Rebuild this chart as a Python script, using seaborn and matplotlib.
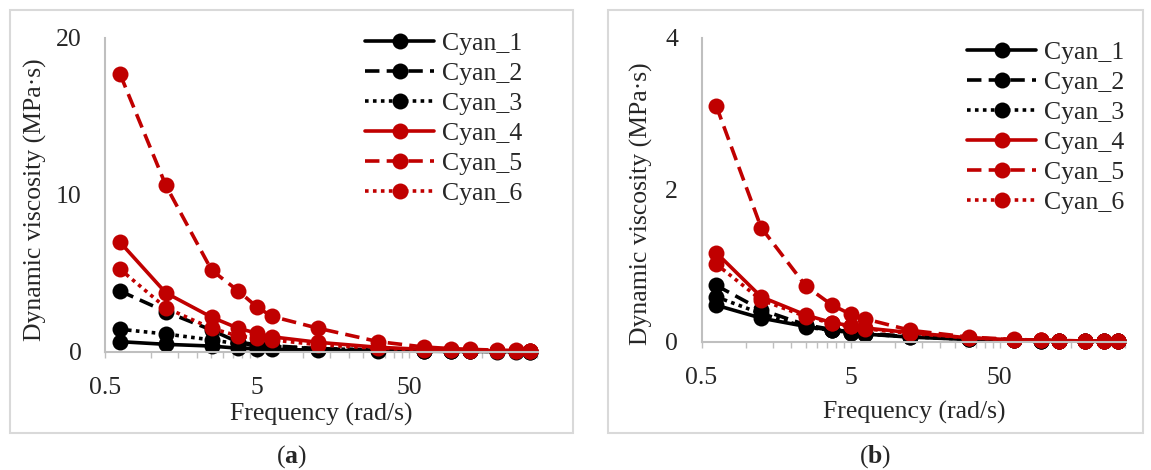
import numpy as np
import pandas as pd
import matplotlib
matplotlib.use("Agg")
import matplotlib.pyplot as plt
from matplotlib.patches import Rectangle
from matplotlib.ticker import FixedLocator, NullFormatter
import seaborn as sns

# Angular frequency sweep (rad/s)
frequency = [0.628, 1.257, 2.513, 3.770, 5.027, 6.283, 12.57, 31.42,
             62.83, 94.25, 125.7, 188.5, 251.3, 314.2]

samples = ["Cyan_1", "Cyan_2", "Cyan_3", "Cyan_4", "Cyan_5", "Cyan_6"]

# Panel (a): dynamic viscosity (MPa·s)
visc_a_1 = [0.64, 0.47, 0.36, 0.22, 0.18, 0.15, 0.10, 0.05, 0.03, 0.02, 0.02, 0.01, 0.01, 0.01]
visc_a_2 = [3.87, 2.55, 1.38, 0.60, 0.45, 0.38, 0.20, 0.10, 0.07, 0.05, 0.04, 0.03, 0.02, 0.02]
visc_a_3 = [1.43, 1.13, 0.75, 0.50, 0.40, 0.33, 0.20, 0.10, 0.06, 0.04, 0.03, 0.02, 0.02, 0.01]
visc_a_4 = [6.98, 3.75, 2.20, 1.49, 1.17, 0.95, 0.60, 0.28, 0.15, 0.10, 0.08, 0.05, 0.04, 0.03]
visc_a_5 = [17.70, 10.60, 5.20, 3.87, 2.83, 2.25, 1.50, 0.64, 0.30, 0.20, 0.15, 0.10, 0.08, 0.06]
visc_a_6 = [5.26, 2.80, 1.49, 1.00, 0.85, 0.75, 0.45, 0.22, 0.12, 0.08, 0.06, 0.04, 0.03, 0.03]

# Panel (b): dynamic viscosity (MPa·s)
visc_b_1 = [0.48, 0.31, 0.20, 0.15, 0.12, 0.10, 0.060, 0.030, 0.017, 0.012, 0.010, 0.007, 0.005, 0.004]
visc_b_2 = [0.74, 0.42, 0.22, 0.16, 0.13, 0.11, 0.070, 0.035, 0.020, 0.015, 0.012, 0.008, 0.006, 0.005]
visc_b_3 = [0.59, 0.37, 0.19, 0.15, 0.12, 0.10, 0.065, 0.030, 0.018, 0.013, 0.010, 0.007, 0.006, 0.005]
visc_b_4 = [1.17, 0.59, 0.35, 0.25, 0.21, 0.18, 0.120, 0.050, 0.025, 0.020, 0.015, 0.010, 0.008, 0.006]
visc_b_5 = [3.10, 1.50, 0.73, 0.48, 0.36, 0.30, 0.150, 0.060, 0.030, 0.020, 0.015, 0.010, 0.010, 0.008]
visc_b_6 = [1.02, 0.55, 0.33, 0.24, 0.20, 0.17, 0.110, 0.050, 0.025, 0.018, 0.013, 0.010, 0.008, 0.006]

x_ticks = [0.5, 5, 50]
x_tick_labels = ["0.5", "5", "50"]
y_ticks_a = [0, 10, 20]
y_ticks_b = [0, 2, 4]

sns.set_style("white")
plt.rcParams["font.family"] = ["Liberation Serif", "DejaVu Serif"]
plt.rcParams["mathtext.fontset"] = "custom"
plt.rcParams["mathtext.rm"] = "Liberation Serif"
plt.rcParams["mathtext.bf"] = "Liberation Serif:bold"

RED = "#C00000"
BLACK = "#000000"
GREY = "#BFBFBF"
FS = 18.5

colors = [BLACK, BLACK, BLACK, RED, RED, RED]
styles = ["-", (0, (4, 2)), (0, (1, 1.2)), "-", (0, (4, 2)), (0, (1, 1.2))]

W, H = 1151, 470
fig = plt.figure(figsize=(W / 100, H / 100), dpi=100)


def px_rect(x0, y0, x1, y1):
    """Figure-fraction rectangle from pixel edges (top-left origin)."""
    return [x0 / W, (H - y1) / H, (x1 - x0) / W, (y1 - y0) / H]


# Panel frames
for (x0, y0, x1, y1) in [(10, 10, 573, 433), (608, 10, 1143, 433)]:
    fig.patches.append(Rectangle((x0 / W, (H - y1) / H), (x1 - x0) / W, (y1 - y0) / H,
                                 transform=fig.transFigure, fill=False,
                                 edgecolor="#D9D9D9", linewidth=1.5))

ax_a = fig.add_axes(px_rect(105, 38, 538, 351.7))
ax_b = fig.add_axes(px_rect(701.5, 37.5, 1126, 341.7))

panels = [
    (ax_a, [visc_a_1, visc_a_2, visc_a_3, visc_a_4, visc_a_5, visc_a_6], y_ticks_a, 365, 32),
    (ax_b, [visc_b_1, visc_b_2, visc_b_3, visc_b_4, visc_b_5, visc_b_6], y_ticks_b, 967, 41),
]

minor = [0.5 * k * 10 ** n for n in range(0, 3) for k in range(2, 10)]

for ax, series, yt, leg_x, leg_y in panels:
    for name, vals, c, ls in zip(samples, series, colors, styles):
        df = pd.DataFrame({"freq": frequency, "visc": vals})
        sns.lineplot(data=df, x="freq", y="visc", ax=ax, color=c, linestyle=ls,
                     linewidth=2.6, marker="o", markersize=11.5, markeredgewidth=0,
                     label=name, clip_on=False)
    ax.set_xscale("log")
    ax.set_xlim(0.5, 353)
    ax.set_ylim(yt[0], yt[-1])
    ax.xaxis.set_major_locator(FixedLocator(x_ticks))
    ax.set_xticklabels(x_tick_labels)
    ax.xaxis.set_minor_locator(FixedLocator(minor))
    ax.xaxis.set_minor_formatter(NullFormatter())
    ax.set_yticks(yt)
    ax.set_yticklabels([str(v) for v in yt])
    ax.tick_params(axis="x", which="both", direction="out", length=4.5, width=1,
                   color=GREY, labelsize=FS, pad=14, bottom=True)
    ax.tick_params(axis="y", length=0, labelsize=FS, pad=17)
    for s in ["top", "right"]:
        ax.spines[s].set_visible(False)
    for s in ["left", "bottom"]:
        ax.spines[s].set_color(GREY)
        ax.spines[s].set_linewidth(1.5)
    ax.set_xlabel("Frequency (rad/s)", fontsize=FS)
    ax.set_ylabel("Dynamic viscosity (MPa·s)", fontsize=FS)
    handles, labels = ax.get_legend_handles_labels()
    ax.legend(handles, labels, loc="upper left",
              bbox_to_anchor=(leg_x / W, 1 - leg_y / H),
              bbox_transform=fig.transFigure, frameon=False, fontsize=FS,
              handlelength=2.7, handletextpad=0.3, labelspacing=0.27,
              borderaxespad=0, borderpad=0)

# Axis label placement
ax_a.xaxis.set_label_coords(321 / W, 1 - 414 / H, transform=fig.transFigure)
ax_b.xaxis.set_label_coords(914 / W, 1 - 412 / H, transform=fig.transFigure)
for ax in (ax_a, ax_b):
    ax.xaxis.label.set_va("center")
    ax.yaxis.label.set_va("center")
ax_a.yaxis.set_label_coords(35 / W, 1 - 200 / H, transform=fig.transFigure)
ax_b.yaxis.set_label_coords(641 / W, 1 - 204 / H, transform=fig.transFigure)

# Panel captions
fig.text(291.5 / W, 1 - 457 / H, r"($\mathbf{a}$)", ha="center", va="center", fontsize=FS)
fig.text(875.5 / W, 1 - 457 / H, r"($\mathbf{b}$)", ha="center", va="center", fontsize=FS)

fig.savefig("out.png", dpi=100)
